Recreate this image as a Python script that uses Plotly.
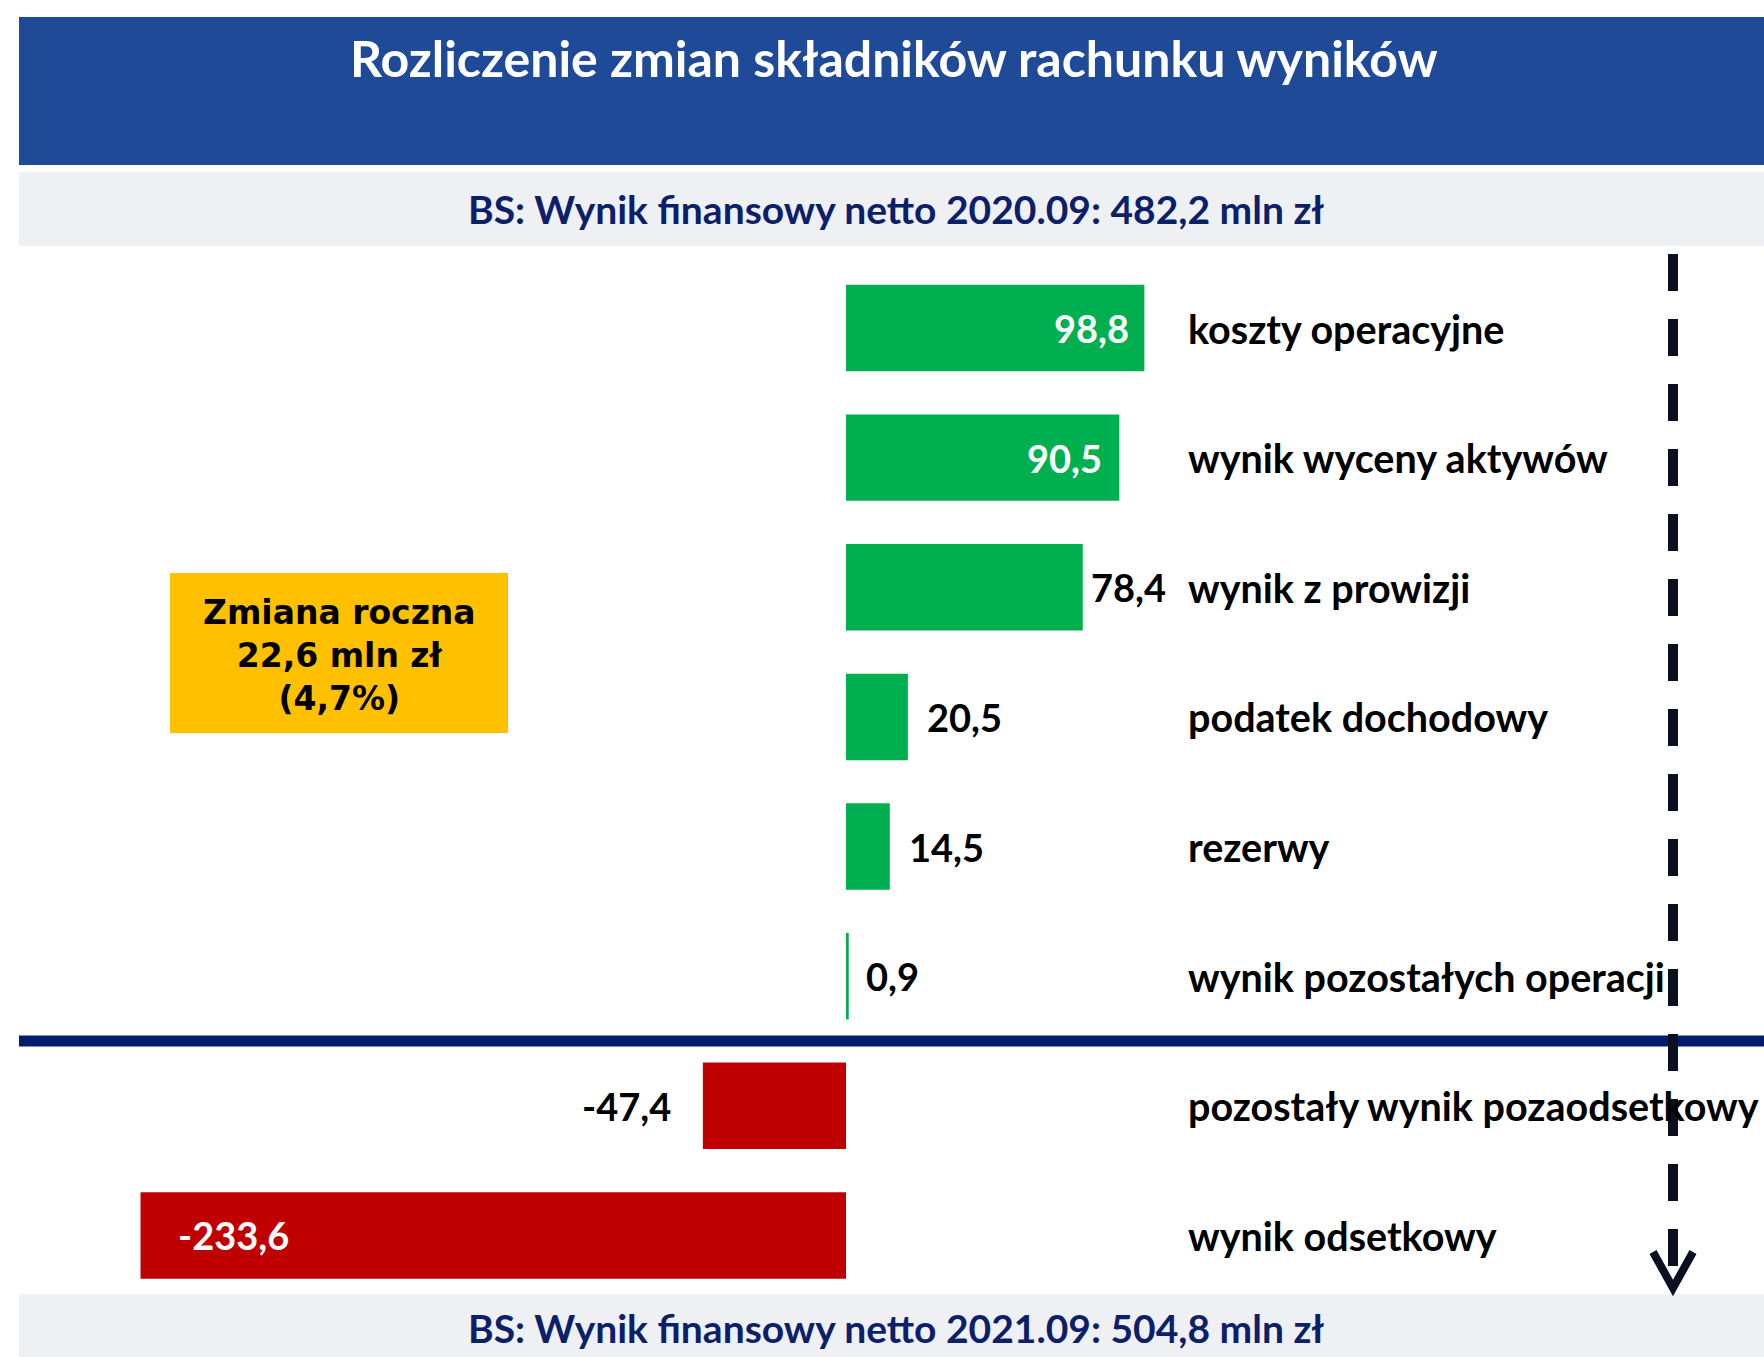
import plotly.graph_objects as go

# ---------------- data ----------------
categories = [
    "koszty operacyjne",
    "wynik wyceny aktywów",
    "wynik z prowizji",
    "podatek dochodowy",
    "rezerwy",
    "wynik pozostałych operacji",
    "pozostały wynik pozaodsetkowy",
    "wynik odsetkowy",
]
values = [98.8, 90.5, 78.4, 20.5, 14.5, 0.9, -47.4, -233.6]
value_labels = ["98,8", "90,5", "78,4", "20,5", "14,5", "0,9", "-47,4", "-233,6"]

title_text = "Rozliczenie zmian składników rachunku wyników"
start_text = "BS: Wynik finansowy netto 2020.09: 482,2 mln zł"
end_text = "BS: Wynik finansowy netto 2021.09: 504,8 mln zł"
box_lines = ["Zmiana roczna", "22,6 mln zł", "(4,7%)"]

# ---------------- style ----------------
W, H = 1764, 1357
GREEN = "#00B050"
RED = "#C00000"
HEADER_BLUE = "#1F4A97"
BAND_GRAY = "#EFF0F4"
NAVY_TEXT = "#0B1F6B"
SEP_NAVY = "#001C6E"
DASH_COLOR = "#0A1020"
YELLOW = "#FFC000"
CAL = "Lato"          # stand-in for Calibri
BOXFONT = "DejaVu Sans"

ZERO_PX = 846.0       # pixel x of value 0
PX_PER_UNIT = 3.02
ROW0_PX = 328.0       # pixel y of first row centre
ROW_STEP = 129.64

label_inside = [True, True, False, False, False, False, False, True]
label_shift = [-13, -15, 6, 17, 17, 15, -30, 35]


def px_x(p):
    return p / W


def px_y(p):
    return 1 - p / H


x_range = [-ZERO_PX / PX_PER_UNIT, (W - ZERO_PX) / PX_PER_UNIT]
y_range = [(H - ROW0_PX) / ROW_STEP, -ROW0_PX / ROW_STEP]

colors = [GREEN if v >= 0 else RED for v in values]

fig = go.Figure()
fig.add_trace(go.Bar(
    x=values, y=categories, orientation="h",
    marker=dict(color=colors, line=dict(width=0)),
    width=0.667, hoverinfo="skip", showlegend=False,
))

shapes = []
# header
shapes.append(dict(type="rect", xref="paper", yref="paper", x0=px_x(19), x1=1,
                   y0=px_y(165), y1=px_y(17), fillcolor=HEADER_BLUE, line=dict(width=0), layer="below"))
shapes.append(dict(type="rect", xref="paper", yref="paper", x0=px_x(19), x1=1,
                   y0=px_y(246), y1=px_y(172), fillcolor=BAND_GRAY, line=dict(width=0), layer="below"))
shapes.append(dict(type="rect", xref="paper", yref="paper", x0=px_x(19), x1=1,
                   y0=0, y1=px_y(1294), fillcolor=BAND_GRAY, line=dict(width=0), layer="below"))
# yellow box
shapes.append(dict(type="rect", xref="paper", yref="paper", x0=px_x(170), x1=px_x(508),
                   y0=px_y(733), y1=px_y(573), fillcolor=YELLOW, line=dict(width=0), layer="below"))
# separator between positive and negative contributions
shapes.append(dict(type="line", xref="paper", yref="y", x0=px_x(19), x1=1, y0=5.5, y1=5.5,
                   line=dict(color=SEP_NAVY, width=11), layer="above"))
# dashed arrow
ax = 1673
shapes.append(dict(type="line", xref="paper", yref="paper", x0=px_x(ax), x1=px_x(ax),
                   y0=px_y(254), y1=px_y(1286),
                   line=dict(color=DASH_COLOR, width=10, dash="37px,28px"), layer="above"))
path = "M {:.5f} {:.5f} L {:.5f} {:.5f} L {:.5f} {:.5f}".format(
    px_x(ax - 20), px_y(1252), px_x(ax), px_y(1288), px_x(ax + 20), px_y(1252))
shapes.append(dict(type="path", xref="paper", yref="paper", path=path,
                   line=dict(color=DASH_COLOR, width=8), layer="above"))

annotations = []
annotations.append(dict(xref="paper", yref="paper", x=px_x(894), y=px_y(57.5), text=title_text,
                        showarrow=False, xanchor="center", yanchor="middle",
                        font=dict(family=CAL, size=50, color="white", weight=700)))
annotations.append(dict(xref="paper", yref="paper", x=px_x(896), y=px_y(209), text=start_text,
                        showarrow=False, xanchor="center", yanchor="middle",
                        font=dict(family=CAL, size=39, color=NAVY_TEXT, weight=700)))
annotations.append(dict(xref="paper", yref="paper", x=px_x(896), y=px_y(1328), text=end_text,
                        showarrow=False, xanchor="center", yanchor="middle",
                        font=dict(family=CAL, size=39, color=NAVY_TEXT, weight=700)))
annotations.append(dict(xref="paper", yref="paper", x=px_x(339), y=px_y(655), text="<br>".join(box_lines),
                        showarrow=False, xanchor="center", yanchor="middle", align="center",
                        font=dict(family=BOXFONT, size=33, color="black", weight=700)))

for cat in categories:
    annotations.append(dict(xref="paper", yref="y", x=px_x(1186), y=cat, text=cat,
                            showarrow=False, xanchor="left", yanchor="middle",
                            font=dict(family=CAL, size=39.5, color="black", weight=700)))

for cat, v, lab, ins, sh in zip(categories, values, value_labels, label_inside, label_shift):
    if v >= 0:
        xa = "right" if ins else "left"
    else:
        xa = "left" if ins else "right"
    annotations.append(dict(xref="x", yref="y", x=v, y=cat, text=lab, xshift=sh,
                            showarrow=False, xanchor=xa, yanchor="middle",
                            font=dict(family=CAL, size=38, color="white" if ins else "black", weight=700)))

fig.update_layout(
    width=W, height=H,
    margin=dict(l=0, r=0, t=0, b=0),
    paper_bgcolor="white", plot_bgcolor="rgba(0,0,0,0)",
    xaxis=dict(range=x_range, visible=False, fixedrange=True),
    yaxis=dict(range=y_range, visible=False, categoryorder="array", categoryarray=categories, fixedrange=True),
    shapes=shapes, annotations=annotations,
    showlegend=False,
)

fig.write_html("out.html", config={"displayModeBar": False},
               post_script="document.body.style.margin='0';document.body.style.overflow='hidden';")
